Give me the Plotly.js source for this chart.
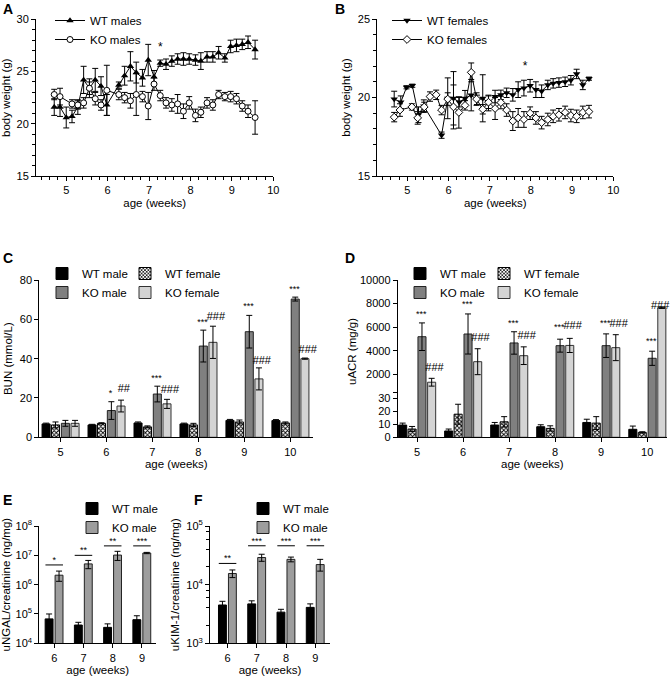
<!DOCTYPE html>
<html>
<head>
<meta charset="utf-8">
<script src="https://cdn.plot.ly/plotly-3.0.1.min.js"></script>
<style>
  html, body { margin: 0; padding: 0; background: #fff; }
  #chart { width: 671px; height: 678px; }
</style>
</head>
<body>
<div id="chart"></div>
<script>
// ---------- A: body weight, males ----------
const wtMaleWeeks = [4.71, 4.85, 5.0, 5.14, 5.28, 5.42, 5.56, 5.70, 5.84, 5.98, 6.27, 6.41, 6.55, 6.69, 6.84, 6.98, 7.12,
  7.27, 7.41, 7.55, 7.69, 7.83, 7.97, 8.12, 8.25, 8.40, 8.54, 8.68, 8.83, 8.97, 9.11, 9.25, 9.39, 9.56];
const wtMaleWeight = [21.6, 21.6, 20.6, 20.7, 21.6, 24.2, 23.4, 24.2, 23.6, 21.8, 23.7, 24.6, 25.5, 24.9, 24.4, 26.1, 24.5,
  25.8, 25.7, 26.0, 26.2, 26.2, 26.2, 26.1, 26.0, 26.4, 26.4, 26.8, 26.3, 27.4, 27.5, 27.6, 27.8, 27.1];
const wtMaleSem = [0.8, 0.9, 1.0, 0.6, 0.7, 1.3, 0.6, 1.1, 0.9, 1.0, 0.3, 0.9, 1.4, 1.0, 0.8, 1.5, 0.6,
  0.3, 0.5, 0.5, 0.5, 0.6, 0.5, 0.5, 0.8, 0.5, 0.5, 0.6, 0.4, 0.6, 0.6, 0.5, 0.6, 0.9];

const koMaleWeeks = [4.71, 4.85, 5.14, 5.28, 5.42, 5.56, 5.70, 5.84, 5.98, 6.27, 6.41, 6.55, 6.69, 6.84, 6.98, 7.12,
  7.27, 7.41, 7.55, 7.69, 7.83, 7.97, 8.12, 8.25, 8.40, 8.54, 8.68, 8.83, 8.97, 9.11, 9.25, 9.39, 9.56];
const koMaleWeight = [22.8, 22.6, 21.9, 21.8, 22.0, 23.4, 22.4, 21.8, 23.2, 22.8, 22.5, 22.2, 22.8, 22.6, 21.7, 23.8,
  22.7, 22.0, 21.8, 21.9, 21.2, 22.0, 20.8, 21.1, 22.0, 21.8, 22.8, 22.6, 22.6, 22.4, 21.7, 21.2, 20.6];
const koMaleSem = [0.5, 0.8, 0.4, 0.4, 0.5, 0.9, 0.6, 0.5, 2.4, 0.5, 0.5, 0.7, 2.0, 0.5, 1.3, 0.6,
  0.5, 0.5, 0.6, 0.9, 0.7, 0.6, 0.6, 0.5, 0.5, 0.5, 0.4, 0.4, 0.5, 0.5, 0.5, 0.6, 1.6];

// ---------- B: body weight, females ----------
const wtFemaleWeeks = [4.68, 4.84, 4.98, 5.12, 5.27, 5.40, 5.83, 5.98, 6.12, 6.26, 6.40, 6.55, 6.69, 6.83, 6.97,
  7.13, 7.27, 7.41, 7.56, 7.69, 7.83, 7.98, 8.12, 8.26, 8.41, 8.54, 8.68, 8.83, 8.97, 9.11, 9.26, 9.41];
const wtFemaleWeight = [19.9, 19.7, 20.65, 20.75, 18.9, 19.45, 17.6, 19.95, 19.95, 19.7, 19.95, 20.15, 19.85, 19.95, 19.65,
  20.06, 20.17, 20.3, 20.17, 20.5, 20.6, 20.75, 20.5, 20.4, 20.8, 20.9, 20.95, 21.0, 21.1, 21.5, 20.8, 21.2];
const wtFemaleSem = [0.5, 0.4, 0.1, 0.1, 0.5, 0.4, 0.2, 1.3, 1.7, 0.3, 0.5, 1.0, 0.3, 1.5, 0.5,
  0.4, 0.3, 0.3, 0.4, 0.5, 0.5, 0.4, 0.5, 0.4, 0.3, 0.3, 0.3, 0.3, 0.3, 0.3, 0.3, 0.1];

const koFemaleWeeks = [4.68, 4.82, 5.11, 5.25, 5.41, 5.55, 5.70, 5.83, 5.98, 6.12, 6.25, 6.40, 6.55, 6.68, 6.83, 6.97,
  7.13, 7.27, 7.41, 7.56, 7.69, 7.83, 7.98, 8.12, 8.26, 8.41, 8.54, 8.68, 8.83, 8.97, 9.11, 9.26, 9.41];
const koFemaleWeight = [18.75, 19.2, 19.4, 18.7, 19.4, 20.06, 20.17, 19.2, 19.9, 19.4, 19.05, 19.5, 21.6, 19.9, 19.25, 19.7,
  19.3, 19.68, 19.2, 18.5, 18.7, 18.6, 19.0, 18.7, 18.4, 18.6, 18.8, 18.9, 19.05, 18.85, 18.8, 19.05, 19.1];
const koFemaleSem = [0.3, 0.4, 0.2, 0.4, 0.3, 0.3, 0.3, 0.3, 0.4, 1.4, 1.0, 0.3, 0.6, 0.4, 0.3, 0.4,
  0.7, 0.4, 0.4, 0.6, 0.6, 0.5, 0.4, 0.4, 0.4, 0.4, 0.4, 0.4, 0.4, 0.4, 0.4, 0.4, 0.4];

// ---------- C: BUN ----------
const ageLabels = ['5', '6', '7', '8', '9', '10'];
const ageIdx = [0, 1, 2, 3, 4, 5];
const bunWtMale = [6.8, 6.3, 7.3, 6.8, 8.6, 8.5];
const bunWtMaleErr = [0.4, 0.3, 0.5, 0.4, 0.5, 0.5];
const bunWtFemale = [6.3, 7.1, 5.3, 6.3, 7.8, 7.3];
const bunWtFemaleErr = [1.5, 0.3, 0.5, 0.8, 1.0, 0.5];
const bunKoMale = [7.1, 13.6, 22.0, 46.4, 53.7, 70.3];
const bunKoMaleErr = [1.5, 4.5, 4.0, 8.1, 8.3, 1.0];
const bunKoFemale = [7.1, 15.9, 17.0, 48.3, 29.7, 40.0];
const bunKoFemaleErr = [1.5, 3.0, 2.3, 8.2, 5.6, 0.3];
const bunStarText = ['', '*', '***', '***', '***', '***'];
const bunStarY = [null, 22.4, 30.0, 58.3, 66.4, 74.9];
const bunHashText = ['', '##', '###', '###', '###', '###'];
const bunHashY = [null, 24.4, 23.7, 61.3, 38.5, 44.4];

// ---------- D: uACR ----------
const acrWtMale = [9.5, 4.9, 9.5, 8.2, 11.5, 6.2];
const acrWtMaleErr = [1.5, 1.5, 2.0, 1.5, 2.5, 2.5];
const acrWtFemale = [6.4, 17.9, 12.0, 6.9, 11.0, 3.8];
const acrWtFemaleErr = [2.0, 7.7, 4.0, 2.0, 5.0, 0.5];
const acrKoMale = [5190, 5420, 4660, 4430, 4430, 3360];
const acrKoMaleErr = [1170, 1700, 950, 550, 1000, 600];
const acrKoFemale = [1330, 3070, 3580, 4450, 4260, 7650];
const acrKoFemaleErr = [330, 1100, 750, 600, 1100, 60];
const acrStarY = [7090, 7880, 6270, 5960, 6270, 4770];
const acrHashY = [2510, 5050, 5190, 6040, 6270, 7740];

// ---------- E / F: urinary markers ----------
const markerAgeLabels = ['6', '7', '8', '9'];
const markerIdx = [0, 1, 2, 3];
const ngalWt = [6.8e4, 4.2e4, 3.5e4, 6.4e4];
const ngalWtErr = [3.2e4, 1.0e4, 1.1e4, 2.3e4];
const ngalKo = [2.1e6, 5.1e6, 1.02e7, 1.2e7];
const ngalKoErr = [0.8e6, 1.6e6, 0.35e7, 0.06e7];
const ngalSigY = [4.7e6, 1.0e7, 2.1e7, 2.1e7];
const ngalSigText = ['*', '**', '**', '***'];

const kimWt = [4.5e3, 4.7e3, 3.4e3, 4.1e3];
const kimWtErr = [0.7e3, 0.6e3, 0.4e3, 0.6e3];
const kimKo = [1.55e4, 2.9e4, 2.7e4, 2.2e4];
const kimKoErr = [0.23e4, 0.4e4, 0.25e4, 0.5e4];
const kimSigY = [2.3e4, 4.6e4, 4.6e4, 4.6e4];
const kimSigText = ['**', '***', '***', '***'];

// ---------- helpers ----------
const W = 671, H = 678;
const fx = v => v / W;
const fy = v => 1 - v / H;
const FONT = 'Arial, "Liberation Sans", sans-serif';

function errs(arr, w) {
  return { type: 'data', array: arr, visible: true, color: '#000', thickness: 1, width: w || 3 };
}

function axis(extra) {
  return Object.assign({
    showline: true, linecolor: '#000', linewidth: 1,
    ticks: 'outside', ticklen: 4, tickwidth: 1, tickcolor: '#000',
    showgrid: false, zeroline: false, fixedrange: true,
    tickfont: { size: 11, color: '#000', family: FONT }
  }, extra);
}

function shift(idx, d) { return idx.map(i => i + d); }

function bracket(idx, ys, half) {
  const xs = [], yy = [];
  idx.forEach((c, i) => { xs.push(c - half, c + half, null); yy.push(ys[i], ys[i], null); });
  return { x: xs, y: yy };
}

const traces = [];

// A
traces.push({
  x: wtMaleWeeks, y: wtMaleWeight, error_y: errs(wtMaleSem, 3),
  type: 'scatter', mode: 'lines+markers', name: 'WT males', legend: 'legend',
  line: { color: '#000', width: 1 },
  marker: { symbol: 'triangle-up', size: 6.5, color: '#000' },
  xaxis: 'x', yaxis: 'y'
});
traces.push({
  x: koMaleWeeks, y: koMaleWeight, error_y: errs(koMaleSem, 3),
  type: 'scatter', mode: 'lines+markers', name: 'KO males', legend: 'legend',
  line: { color: '#000', width: 1 },
  marker: { symbol: 'circle', size: 6, color: '#fff', line: { color: '#000', width: 1 } },
  xaxis: 'x', yaxis: 'y'
});
traces.push({
  x: [7.27], y: [27.3], text: ['*'], type: 'scatter', mode: 'text', showlegend: false,
  textfont: { size: 12, family: FONT, color: '#000' }, hoverinfo: 'skip', xaxis: 'x', yaxis: 'y'
});

// B
traces.push({
  x: wtFemaleWeeks, y: wtFemaleWeight, error_y: errs(wtFemaleSem, 3),
  type: 'scatter', mode: 'lines+markers', name: 'WT females', legend: 'legend2',
  line: { color: '#000', width: 1 },
  marker: { symbol: 'triangle-down', size: 6.5, color: '#000' },
  xaxis: 'x2', yaxis: 'y2'
});
traces.push({
  x: koFemaleWeeks, y: koFemaleWeight, error_y: errs(koFemaleSem, 3),
  type: 'scatter', mode: 'lines+markers', name: 'KO females', legend: 'legend2',
  line: { color: '#000', width: 1 },
  marker: { symbol: 'diamond', size: 6, color: '#fff', line: { color: '#000', width: 1 } },
  xaxis: 'x2', yaxis: 'y2'
});
traces.push({
  x: [7.86], y: [21.95], text: ['*'], type: 'scatter', mode: 'text', showlegend: false,
  textfont: { size: 12, family: FONT, color: '#000' }, hoverinfo: 'skip', xaxis: 'x2', yaxis: 'y2'
});

// bar styles shared by C and D
const BW = 0.175;
const barStyles = {
  wtMale: { marker: { color: '#000', line: { color: '#000', width: 1 } }, offset: -0.40 },
  wtFemale: {
    marker: { color: '#fff', line: { color: '#000', width: 1 },
      pattern: { shape: 'x', size: 3, solidity: 0.5, fgcolor: '#000', bgcolor: '#fff' } },
    offset: -0.195
  },
  koMale: { marker: { color: '#808080', line: { color: '#222', width: 1 } }, offset: 0.02 },
  koFemale: { marker: { color: '#d4d4d4', line: { color: '#333', width: 1 } }, offset: 0.23 }
};

function bar(name, key, y, err, xa, ya, legend, showlegend) {
  const s = barStyles[key];
  return {
    type: 'bar', name: name, x: ageIdx, y: y, width: BW, offset: s.offset,
    marker: s.marker, error_y: err ? errs(err, 3) : undefined,
    xaxis: xa, yaxis: ya, legend: legend, showlegend: showlegend, hoverinfo: 'y'
  };
}

// C
traces.push(bar('WT male', 'wtMale', bunWtMale, bunWtMaleErr, 'x3', 'y3', 'legend3', true));
traces.push(bar('WT female', 'wtFemale', bunWtFemale, bunWtFemaleErr, 'x3', 'y3', 'legend4', true));
traces.push(bar('KO male', 'koMale', bunKoMale, bunKoMaleErr, 'x3', 'y3', 'legend3', true));
traces.push(bar('KO female', 'koFemale', bunKoFemale, bunKoFemaleErr, 'x3', 'y3', 'legend4', true));
traces.push({
  x: shift(ageIdx, 0.09), y: bunStarY, text: bunStarText, type: 'scatter', mode: 'text',
  showlegend: false, hoverinfo: 'skip', textfont: { size: 9, family: FONT, color: '#000' },
  cliponaxis: false, xaxis: 'x3', yaxis: 'y3'
});
traces.push({
  x: shift(ageIdx, 0.38), y: bunHashY, text: bunHashText, type: 'scatter', mode: 'text',
  showlegend: false, hoverinfo: 'skip', textfont: { size: 11, family: FONT, color: '#000' },
  cliponaxis: false, xaxis: 'x3', yaxis: 'y3'
});

// D: lower (0-30) and upper (500-10000) parts of a broken axis
traces.push(bar('WT male', 'wtMale', acrWtMale, acrWtMaleErr, 'x4', 'y4', 'legend5', true));
traces.push(bar('WT female', 'wtFemale', acrWtFemale, acrWtFemaleErr, 'x4', 'y4', 'legend6', true));
traces.push(bar('KO male', 'koMale', acrKoMale, null, 'x4', 'y4', 'legend5', false));
traces.push(bar('KO female', 'koFemale', acrKoFemale, null, 'x4', 'y4', 'legend6', false));
traces.push(bar('KO male', 'koMale', acrKoMale, acrKoMaleErr, 'x4', 'y5', 'legend5', true));
traces.push(bar('KO female', 'koFemale', acrKoFemale, acrKoFemaleErr, 'x4', 'y5', 'legend6', true));
traces.push({
  x: shift(ageIdx, 0.09), y: acrStarY, text: ageIdx.map(() => '***'), type: 'scatter', mode: 'text',
  showlegend: false, hoverinfo: 'skip', textfont: { size: 9, family: FONT, color: '#000' },
  cliponaxis: false, xaxis: 'x4', yaxis: 'y5'
});
traces.push({
  x: shift(ageIdx, 0.38).map((v, i) => i === 5 ? v - 0.1 : v), y: acrHashY, text: ageIdx.map(() => '###'),
  type: 'scatter', mode: 'text',
  showlegend: false, hoverinfo: 'skip', textfont: { size: 11, family: FONT, color: '#000' },
  cliponaxis: false, xaxis: 'x4', yaxis: 'y5'
});

// E and F
function markerBars(wt, wtErr, ko, koErr, xa, ya, legend) {
  return [
    { type: 'bar', name: 'WT male', x: markerIdx, y: wt, width: 0.27, offset: -0.31,
      marker: { color: '#000', line: { color: '#000', width: 1 } }, error_y: errs(wtErr, 3),
      xaxis: xa, yaxis: ya, legend: legend },
    { type: 'bar', name: 'KO male', x: markerIdx, y: ko, width: 0.27, offset: 0.03,
      marker: { color: '#9d9d9d', line: { color: '#222', width: 1 } }, error_y: errs(koErr, 3),
      xaxis: xa, yaxis: ya, legend: legend }
  ];
}
function sigMarks(ys, labels, xa, ya) {
  const b = bracket(markerIdx, ys, 0.3);
  return [
    { x: b.x, y: b.y, type: 'scatter', mode: 'lines', line: { color: '#000', width: 1 },
      showlegend: false, hoverinfo: 'skip', xaxis: xa, yaxis: ya },
    { x: markerIdx, y: ys, text: labels, type: 'scatter', mode: 'text', textposition: 'top center',
      textfont: { size: 9, family: FONT, color: '#000' }, showlegend: false, hoverinfo: 'skip',
      cliponaxis: false, xaxis: xa, yaxis: ya }
  ];
}
traces.push(...markerBars(ngalWt, ngalWtErr, ngalKo, ngalKoErr, 'x5', 'y6', 'legend7'));
traces.push(...sigMarks(ngalSigY, ngalSigText, 'x5', 'y6'));
traces.push(...markerBars(kimWt, kimWtErr, kimKo, kimKoErr, 'x6', 'y7', 'legend8'));
traces.push(...sigMarks(kimSigY, kimSigText, 'x6', 'y7'));

// ---------- layout ----------
const weekAxis = (dom, anchor) => axis({
  domain: dom, anchor: anchor, range: [4.27, 10], tickvals: [5, 6, 7, 8, 9, 10],
  minor: { ticks: 'outside', ticklen: 3, tickwidth: 1, tickcolor: '#000', dtick: 0.2, tick0: 5 },
  title: { text: 'age (weeks)', font: { size: 11.5, family: FONT, color: '#000' }, standoff: 3 }
});
const ageTitle = { text: 'age (weeks)', font: { size: 11.5, family: FONT, color: '#000' }, standoff: 3 };
const yTitle = t => ({ text: t, font: { size: 11.5, family: FONT, color: '#000' }, standoff: 4 });

const legendBase = (x, y) => ({
  x: fx(x), y: fy(y), xanchor: 'left', yanchor: 'top', bgcolor: 'rgba(0,0,0,0)',
  font: { size: 11.5, family: FONT, color: '#000' }, itemwidth: 30, tracegroupgap: 0,
  itemclick: false, itemdoubleclick: false
});

function letter(t, x, y) {
  return { text: '<b>' + t + '</b>', x: fx(x), y: fy(y), xref: 'paper', yref: 'paper',
    xanchor: 'left', yanchor: 'middle', showarrow: false, font: { size: 14, family: FONT, color: '#000' } };
}

const layout = {
  width: W, height: H, margin: { l: 0, r: 0, t: 0, b: 0 },
  paper_bgcolor: '#fff', plot_bgcolor: 'rgba(0,0,0,0)',
  font: { family: FONT, color: '#000' },
  barmode: 'overlay', showlegend: true, hovermode: 'closest',

  xaxis: weekAxis([fx(36), fx(273.3)], 'y'),
  yaxis: axis({ domain: [fy(176), fy(19.3)], anchor: 'x', range: [15, 30], tickvals: [15, 20, 25, 30],
    minor: { ticks: 'outside', ticklen: 3, tickwidth: 1, tickcolor: '#000', dtick: 1 },
    title: yTitle('body weight (g)') }),

  xaxis2: weekAxis([fx(377.3), fx(613.3)], 'y2'),
  yaxis2: axis({ domain: [fy(176), fy(19)], anchor: 'x2', range: [15, 25], tickvals: [15, 20, 25],
    minor: { ticks: 'outside', ticklen: 3, tickwidth: 1, tickcolor: '#000', dtick: 1 },
    title: yTitle('body weight (g)') }),

  xaxis3: axis({ domain: [fx(39.3), fx(313.3)], anchor: 'y3', range: [-0.46, 5.5],
    tickvals: ageIdx, ticktext: ageLabels, title: ageTitle }),
  yaxis3: axis({ domain: [fy(437.3), fy(280)], anchor: 'x3', range: [0, 80], tickvals: [0, 20, 40, 60, 80],
    title: yTitle('BUN (mmol/L)') }),

  xaxis4: axis({ domain: [fx(397.7), fx(667)], anchor: 'y4', range: [-0.42, 5.43],
    tickvals: ageIdx, ticktext: ageLabels, title: ageTitle }),
  yaxis4: axis({ domain: [fy(437.3), fy(392)], anchor: 'x4', range: [0, 35.1], tickvals: [0, 10, 20, 30] }),
  yaxis5: axis({ domain: [fy(392), fy(280)], anchor: 'x4', range: [500, 10000],
    tickvals: [500, 2000, 4000, 6000, 8000, 10000], ticktext: ['', '2000', '4000', '6000', '8000', '10000'] }),

  xaxis5: axis({ domain: [fx(39.3), fx(156)], anchor: 'y6', range: [-0.51, 3.48],
    tickvals: markerIdx, ticktext: markerAgeLabels, title: ageTitle }),
  yaxis6: axis({ domain: [fy(643.3), fy(526)], anchor: 'x5', type: 'log', range: [4, 8],
    tickvals: [1e4, 1e5, 1e6, 1e7, 1e8],
    ticktext: ['10<sup>4</sup>', '10<sup>5</sup>', '10<sup>6</sup>', '10<sup>7</sup>', '10<sup>8</sup>'],
    title: yTitle('uNGAL/creatinine (ng/mg)') }),

  xaxis6: axis({ domain: [fx(210), fx(330)], anchor: 'y7', range: [-0.6, 3.5],
    tickvals: markerIdx, ticktext: markerAgeLabels, title: ageTitle }),
  yaxis7: axis({ domain: [fy(643.3), fy(526)], anchor: 'x6', type: 'log', range: [3, 5],
    tickvals: [1e3, 1e4, 1e5], ticktext: ['10<sup>3</sup>', '10<sup>4</sup>', '10<sup>5</sup>'],
    minor: { ticks: 'outside', ticklen: 3, tickwidth: 1, tickcolor: '#000',
      tickvals: [2e3, 4e3, 6e3, 8e3, 2e4, 4e4, 6e4, 8e4] },
    title: yTitle('uKIM-1/creatinine (ng/mg)') }),

  legend: legendBase(50, 6),
  legend2: legendBase(387, 6),
  legend3: legendBase(42, 259),
  legend4: legendBase(125, 259),
  legend5: legendBase(400, 259),
  legend6: legendBase(484, 259),
  legend7: legendBase(72, 494),
  legend8: legendBase(243, 494),

  annotations: [
    letter('A', 1, 9), letter('B', 333, 9), letter('C', 1, 258),
    letter('D', 343, 258), letter('E', 1, 500), letter('F', 192, 500),
    { text: 'uACR (mg/g)', textangle: -90, x: fx(352), y: fy(352), xref: 'paper', yref: 'paper',
      showarrow: false, font: { size: 11.5, family: FONT, color: '#000' } }
  ]
};

Plotly.newPlot('chart', traces, layout, { staticPlot: true, displayModeBar: false });
</script>
</body>
</html>
